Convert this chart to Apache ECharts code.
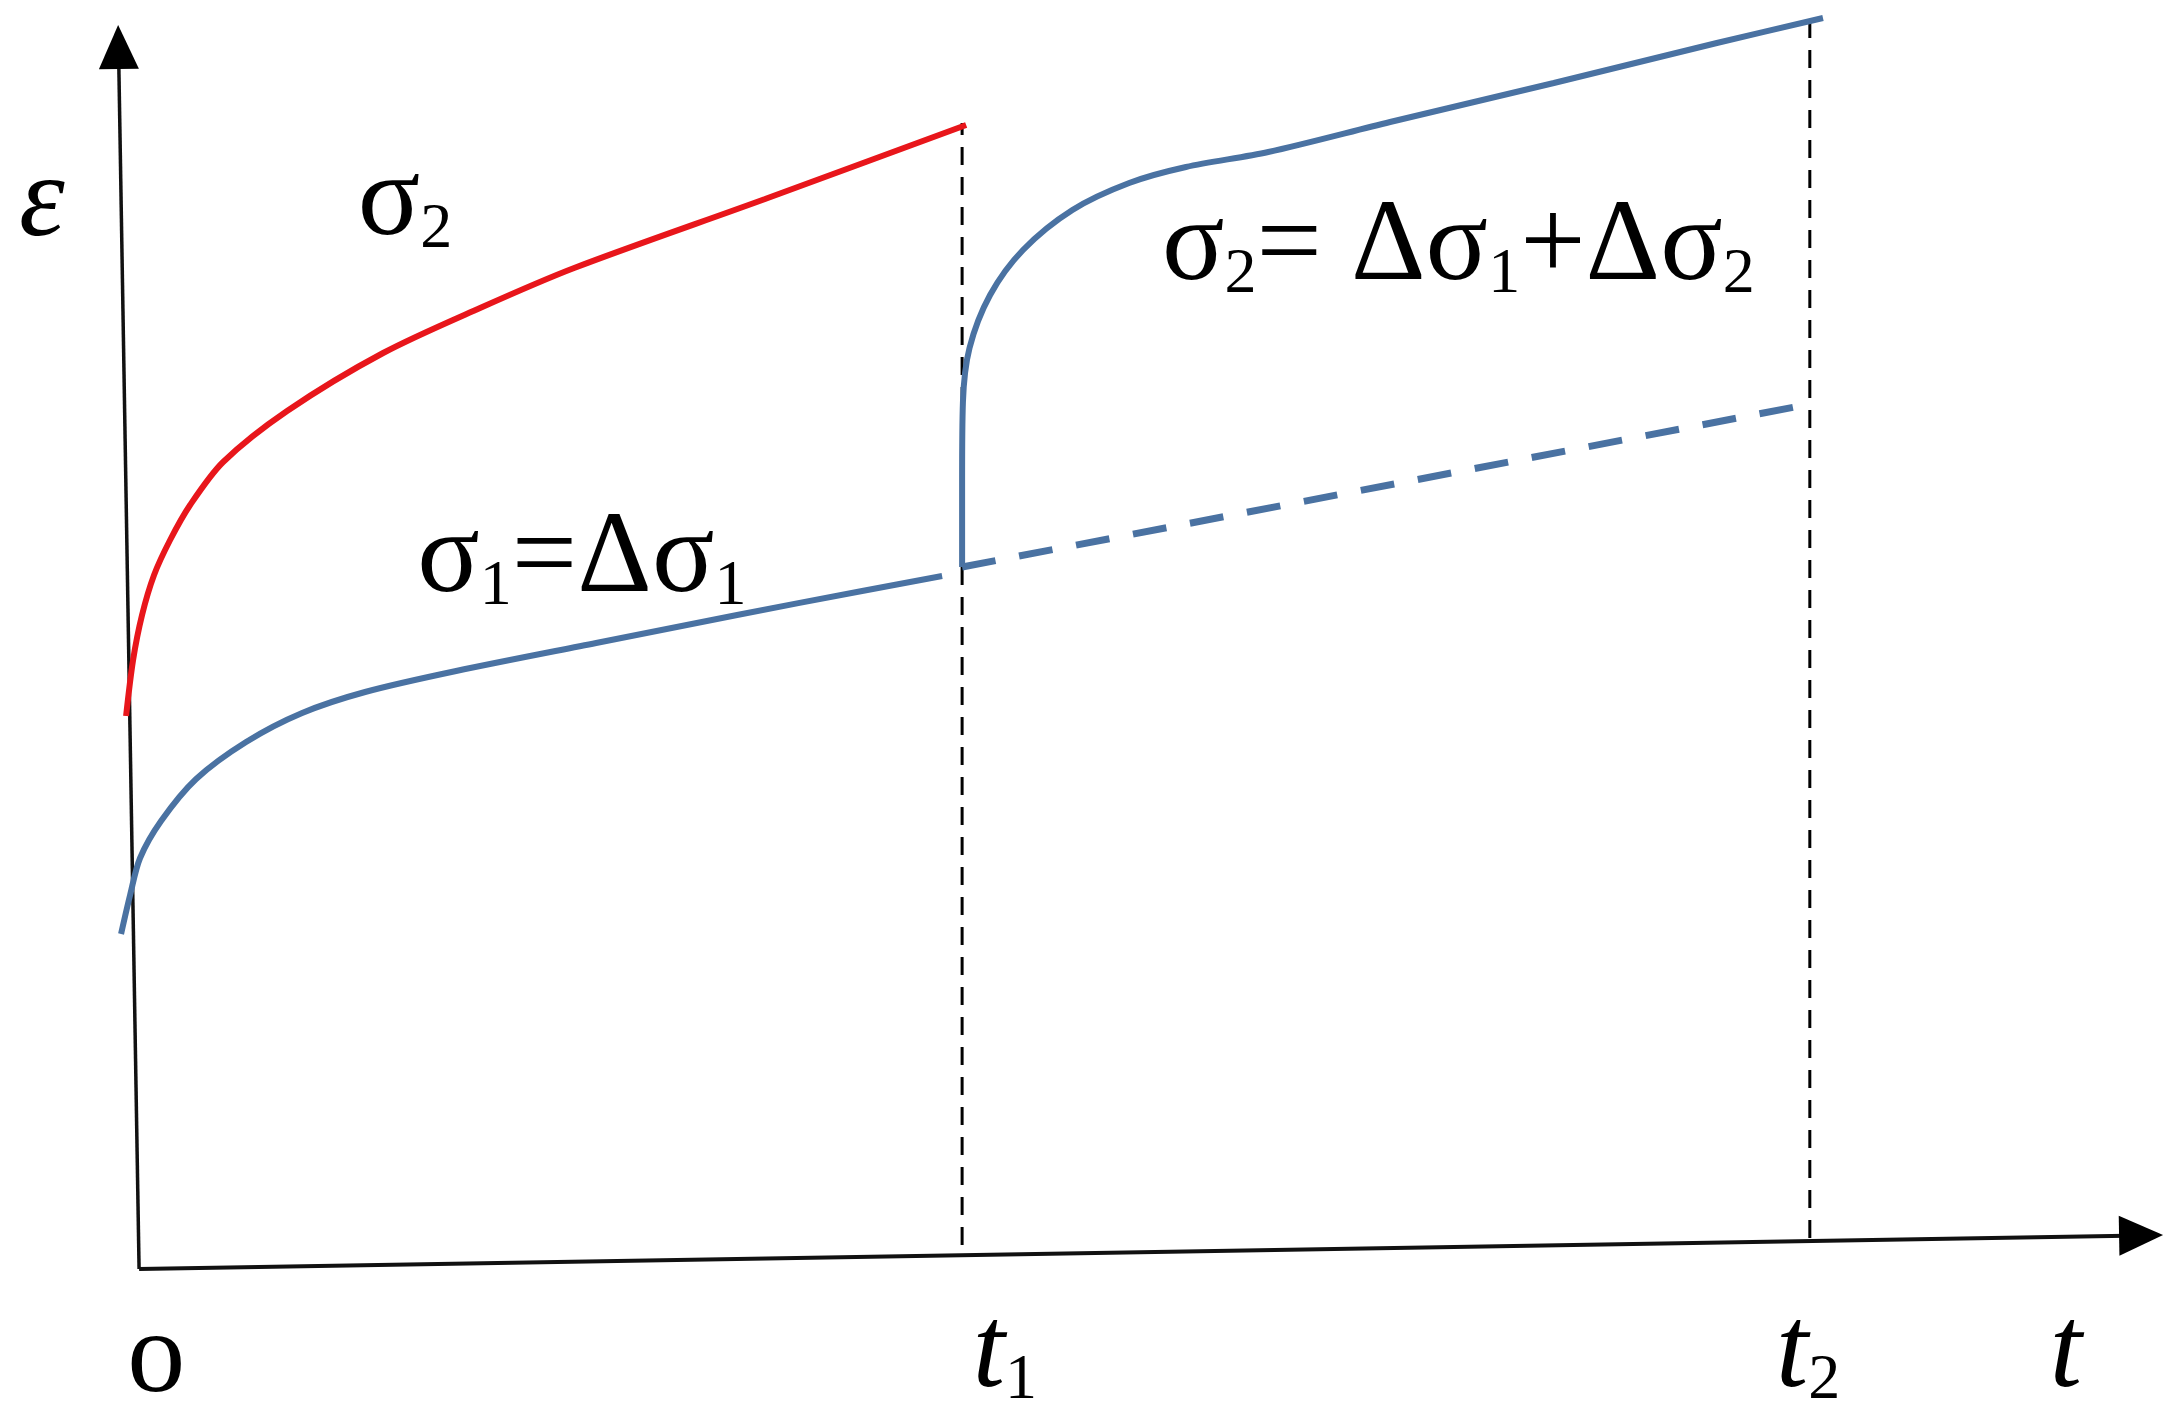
<!DOCTYPE html>
<html>
<head>
<meta charset="utf-8">
<style>
  html, body { margin: 0; padding: 0; background: #ffffff; }
  #chart { width: 2181px; height: 1425px; }
</style>
<script src="https://cdn.jsdelivr.net/npm/echarts@6/dist/echarts.min.js"></script>
</head>
<body>
<div id="chart"></div>
<script>
// ---- data (t in units of t1, epsilon in arbitrary units) ----
const redT     = [-0.0158, -0.0073, 0.0036, 0.0182, 0.0377, 0.0620, 0.1021, 0.1798, 0.2965, 0.4143, 0.5286, 0.7606, 1.0049];
const redEps   = [5.53, 6.09, 6.54, 6.94, 7.29, 7.64, 8.07, 8.58, 9.16, 9.61, 10.01, 10.70, 11.44];

const blue1T   = [-0.0219, -0.0109, 0.0012, 0.0267, 0.0693, 0.1300, 0.1981, 0.2746, 0.3852, 0.5553, 0.7266, 0.8785, 0.9757];
const blue1Eps = [3.35, 3.74, 4.11, 4.48, 4.90, 5.27, 5.56, 5.77, 5.98, 6.26, 6.54, 6.78, 6.93];

const blue2T   = [1.0, 1.0, 1.001, 1.009, 1.034, 1.074, 1.134, 1.203, 1.272, 1.372, 1.520, 1.719, 1.917, 2.046];
const blue2Eps = [7.02, 7.89, 8.67, 9.21, 9.74, 10.19, 10.59, 10.86, 11.02, 11.17, 11.47, 11.86, 12.26, 12.51];

const dashT    = [1.0, 2.018];
const dashEps  = [7.02, 8.63];

const t1 = 1.0;
const t2 = 2.03;
const guideT1Eps = [0.24, 11.46];
const guideT2Eps = [0.31, 12.48];

// axis arrows (start, arrow-head centre)
const yAxisT   = [0, -0.025];
const yAxisEps = [0, 12.22];
const xAxisT   = [0, 2.4325];
const xAxisEps = [0, 0.336];

const xRange = [-0.169, 2.481];
const yRange = [-1.56, 12.69];

// text labels
const labelText = [
  '{i|ε}',
  '{m|σ}{s|2}',
  '{m|σ}{s|1}{m|=Δσ}{s|1}',
  '{m|σ}{s|2}{m|= Δσ}{s|1}{m|+Δσ}{s|2}',
  '{m|o}',
  '{i|t}{s|1}',
  '{i|t}{s|2}',
  '{i|t}'
];
const labelT   = [-0.118, 0.323, 0.538, 1.603, 0.021, 1.052, 2.028, 2.341];
const labelEps = [10.65, 10.65, 7.08, 10.20, -0.92, -0.86, -0.86, -0.86];

// ---- build ----
const zip = (a, b) => a.map((v, i) => [v, b[i]]);
const FONT = 'Liberation Serif';
const BLUE = '#4a72a2';
const RED = '#e8161b';

function arrowLine(ts, es, rot) {
  const pts = zip(ts, es);
  return pts.map((p, i) => i === pts.length - 1
    ? { value: p, symbol: 'triangle', symbolSize: [40, 44], symbolRotate: rot }
    : { value: p, symbol: 'none' });
}

const chart = echarts.init(document.getElementById('chart'), null, { renderer: 'canvas' });
chart.setOption({
  backgroundColor: '#ffffff',
  animation: false,
  grid: { left: 0, right: 0, top: 0, bottom: 0 },
  xAxis: { type: 'value', min: xRange[0], max: xRange[1], show: false },
  yAxis: { type: 'value', min: yRange[0], max: yRange[1], show: false },
  series: [
    {
      name: 'yAxisArrow', type: 'line', silent: true, showSymbol: true, symbol: 'none',
      data: arrowLine(yAxisT, yAxisEps, 1),
      lineStyle: { color: '#111111', width: 3.5 },
      itemStyle: { color: '#000000' }
    },
    {
      name: 'xAxisArrow', type: 'line', silent: true, showSymbol: true, symbol: 'none',
      data: arrowLine(xAxisT, xAxisEps, -89),
      lineStyle: { color: '#111111', width: 4 },
      itemStyle: { color: '#000000' }
    },
    {
      name: 't1 guide', type: 'line', silent: true, symbol: 'none',
      data: zip([t1, t1], guideT1Eps),
      lineStyle: { color: '#000000', width: 3, type: [18, 12] }
    },
    {
      name: 't2 guide', type: 'line', silent: true, symbol: 'none',
      data: zip([t2, t2], guideT2Eps),
      lineStyle: { color: '#000000', width: 3, type: [18, 12] }
    },
    {
      name: 'sigma2', type: 'line', silent: true, symbol: 'none', smooth: 0.3,
      data: zip(redT, redEps),
      lineStyle: { color: RED, width: 6 }
    },
    {
      name: 'sigma1', type: 'line', silent: true, symbol: 'none', smooth: 0.3,
      data: zip(blue1T, blue1Eps),
      lineStyle: { color: BLUE, width: 6 }
    },
    {
      name: 'sigma1+sigma2', type: 'line', silent: true, symbol: 'none', smooth: 0.3,
      data: zip(blue2T, blue2Eps),
      lineStyle: { color: BLUE, width: 6 }
    },
    {
      name: 'sigma1 continued', type: 'line', silent: true, symbol: 'none',
      data: zip(dashT, dashEps),
      lineStyle: { color: BLUE, width: 7, type: [34, 24] }
    },
    {
      name: 'labels', type: 'scatter', silent: true,
      symbol: 'circle', symbolSize: 1,
      itemStyle: { color: 'rgba(0,0,0,0)', opacity: 1 },
      data: labelT.map((t, i) => [t, labelEps[i]]),
      label: {
        show: true,
        position: 'inside',
        align: 'center',
        verticalAlign: 'middle',
        color: '#000000',
        opacity: 1,
        fontFamily: FONT,
        fontSize: 116,
        formatter: p => labelText[p.dataIndex],
        rich: {
          m: { fontFamily: FONT, fontSize: 116, lineHeight: 116, color: '#000000' },
          i: { fontFamily: FONT, fontSize: 116, lineHeight: 116, fontStyle: 'italic', color: '#000000' },
          s: { fontFamily: FONT, fontSize: 64, lineHeight: 61, verticalAlign: 'bottom', color: '#000000' }
        }
      },
      z: 10
    }
  ]
});
</script>
</body>
</html>
